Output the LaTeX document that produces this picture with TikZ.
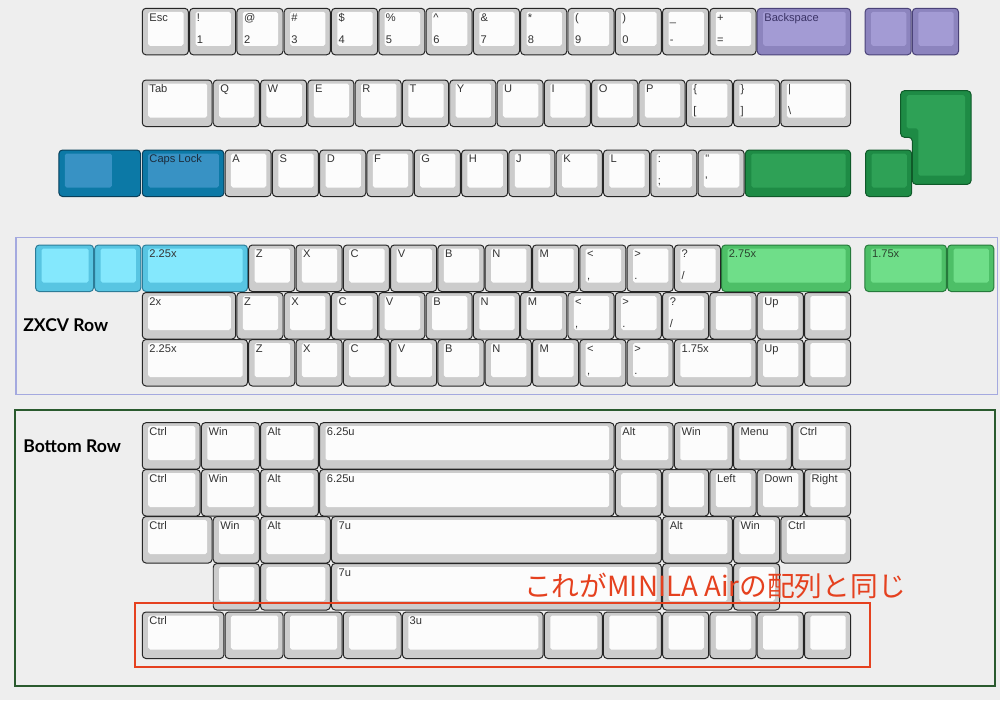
\documentclass[tikz,border=0pt]{standalone}
\usepackage{fontspec}
\setmainfont{Liberation Sans}
\newfontfamily\headfont{Lato}
\newfontfamily\jpfont{Noto Sans CJK JP}
\definecolor{paper}{HTML}{EEEEEE}
\definecolor{capO}{HTML}{CCCCCC}
\definecolor{capI}{HTML}{FCFCFC}
\definecolor{capD}{HTML}{262626}
\definecolor{capT}{HTML}{333333}
\definecolor{lilacO}{HTML}{8C84BE}
\definecolor{lilacI}{HTML}{A39BD4}
\definecolor{lilacD}{HTML}{4A4278}
\definecolor{lilacT}{HTML}{3B3366}
\definecolor{tealO}{HTML}{0C79A6}
\definecolor{tealI}{HTML}{3892C4}
\definecolor{tealD}{HTML}{083F5A}
\definecolor{tealT}{HTML}{1C2C3C}
\definecolor{pineO}{HTML}{1E8B45}
\definecolor{pineI}{HTML}{2EA156}
\definecolor{pineD}{HTML}{0F5A29}
\definecolor{pineT}{HTML}{1E3A24}
\definecolor{aquaO}{HTML}{58C5E2}
\definecolor{aquaI}{HTML}{84E8FD}
\definecolor{aquaD}{HTML}{2C7C98}
\definecolor{aquaT}{HTML}{333333}
\definecolor{mintO}{HTML}{4DBF67}
\definecolor{mintI}{HTML}{6FDE89}
\definecolor{mintD}{HTML}{267A3B}
\definecolor{mintT}{HTML}{2A442E}
\definecolor{zxcvline}{HTML}{A4A9DF}
\definecolor{bottomline}{HTML}{2A5A2E}
\definecolor{note}{HTML}{E5411F}

% x0, y0, offset (u), width (u), colour set, top label, bottom label
\newcommand\keycap[7]{%
  \pgfmathsetmacro\keyL{#1+#3*47.3}%
  \pgfmathsetmacro\keyR{#1+(#3+#4)*47.3}%
  \filldraw[fill=#5O,draw=#5D,line width=0.7pt,rounded corners=2.6pt]
    (\keyL+0.6,#2) rectangle (\keyR-0.6,#2+46.5);
  \fill[#5I,rounded corners=1.3pt] (\keyL+6.5,#2+3.5) rectangle (\keyR-5.5,#2+37.5);
  \node[keytext,text=#5T] at (\keyL+7.5,#2+12.8) {#6};
  \node[keytext,text=#5T] at (\keyL+7.5,#2+34.8) {#7};}

\begin{document}
\begin{tikzpicture}[x=0.025cm,y=-0.025cm,
  keytext/.style={anchor=base west,inner sep=0pt,font=\fontsize{7.9}{9}\selectfont},
  rowtitle/.style={anchor=west,inner sep=0pt,font=\headfont\bfseries\fontsize{12.5}{15}\selectfont}]
  \fill[paper] (0,0) rectangle (1000,700);
  \useasboundingbox (0,0) rectangle (1000,700);

  % number row
  \foreach \o/\a/\b in {0/Esc/{},1/!/1,2/@/2,3/\#/3,4/\$/4,5/\%/5,6/\^{}/6,
      7/\&/7,8/*/8,9/(/9,10/)/0,11/\_/-,12/+/=}{
    \keycap{141.7}{8.3}{\o}{1}{cap}{\a}{\b}}
  \keycap{141.7}{8.3}{13}{2}{lilac}{Backspace}{}
  \keycap{864.5}{8.3}{0}{1}{lilac}{}{}
  \keycap{864.5}{8.3}{1}{1}{lilac}{}{}

  % tab row
  \keycap{141.7}{80}{0}{1.5}{cap}{Tab}{}
  \foreach \o/\a in {1.5/Q,2.5/W,3.5/E,4.5/R,5.5/T,6.5/Y,7.5/U,8.5/I,9.5/O,10.5/P}{
    \keycap{141.7}{80}{\o}{1}{cap}{\a}{}}
  \keycap{141.7}{80}{11.5}{1}{cap}{\{}{[}
  \keycap{141.7}{80}{12.5}{1}{cap}{\}}{]}
  \keycap{141.7}{80}{13.5}{1.5}{cap}{|}{\textbackslash}

  % caps row (stepped caps lock on the left)
  \filldraw[fill=tealO,draw=tealD,line width=0.7pt,rounded corners=2.6pt]
    (58.9,150) rectangle (140.5,196.5);
  \fill[tealI,rounded corners=1.3pt] (64.8,153.5) rectangle (111.9,187.5);
  \keycap{141.7}{150}{0}{1.75}{teal}{Caps Lock}{}
  \foreach \o/\a in {1.75/A,2.75/S,3.75/D,4.75/F,5.75/G,6.75/H,7.75/J,8.75/K,9.75/L}{
    \keycap{141.7}{150}{\o}{1}{cap}{\a}{}}
  \keycap{141.7}{150}{10.75}{1}{cap}{:}{;}
  \keycap{141.7}{150}{11.75}{1}{cap}{\textquotedbl}{\textquotesingle}
  \keycap{141.7}{150}{12.75}{2.25}{pine}{}{}
  \keycap{865}{150}{0}{1}{pine}{}{}
  % ISO enter
  \filldraw[fill=pineO,draw=pineD,line width=0.7pt,rounded corners=2.6pt]
    (900.7,90.7) -- (971,90.7) -- (971,184.3) -- (912.3,184.3)
    -- (912.3,137.3) -- (900.7,137.3) -- cycle;
  \fill[pineI,rounded corners=1.3pt] (906.7,95) -- (965,95) -- (965,175.7)
    -- (918.3,175.7) -- (918.3,128.3) -- (906.7,128.3) -- cycle;

  % ZXCV section
  \draw[zxcvline,line width=0.9pt] (16,237.3) rectangle (997.7,394.3);
  \node[rowtitle] (zxcvtitle) at (23,325) {ZXCV Row};
  \keycap{35}{245}{0}{1.25}{aqua}{}{}
  \keycap{35}{245}{1.25}{1}{aqua}{}{}
  \keycap{141.7}{245}{0}{2.25}{aqua}{2.25x}{}
  \foreach \o/\a/\b in {2.25/Z/{},3.25/X/{},4.25/C/{},5.25/V/{},6.25/B/{},7.25/N/{},
      8.25/M/{},9.25/</{,},10.25/>/.,11.25/?/{/}}{
    \keycap{141.7}{245}{\o}{1}{cap}{\a}{\b}}
  \keycap{141.7}{245}{12.25}{2.75}{mint}{2.75x}{}
  \keycap{864.3}{245}{0}{1.75}{mint}{1.75x}{}
  \keycap{864.3}{245}{1.75}{1}{mint}{}{}
  % 2x shift
  \keycap{141.7}{292.5}{0}{2}{cap}{2x}{}
  \foreach \o/\a/\b in {2/Z/{},3/X/{},4/C/{},5/V/{},6/B/{},7/N/{},8/M/{},
      9/</{,},10/>/.,11/?/{/},12/{}/{},13/Up/{},14/{}/{}}{
    \keycap{141.7}{292.5}{\o}{1}{cap}{\a}{\b}}
  % 2.25x shift
  \keycap{141.7}{339.5}{0}{2.25}{cap}{2.25x}{}
  \foreach \o/\a/\b in {2.25/Z/{},3.25/X/{},4.25/C/{},5.25/V/{},6.25/B/{},7.25/N/{},
      8.25/M/{},9.25/</{,},10.25/>/.,13/Up/{},14/{}/{}}{
    \keycap{141.7}{339.5}{\o}{1}{cap}{\a}{\b}}
  \keycap{141.7}{339.5}{11.25}{1.75}{cap}{1.75x}{}

  % bottom section
  \draw[bottomline,line width=1pt] (15,410) rectangle (995,686);
  \node[rowtitle] (bottomtitle) at (23,446) {Bottom Row};
  \foreach \o/\w/\a in {0/1.25/Ctrl,1.25/1.25/Win,2.5/1.25/Alt,3.75/6.25/6.25u,
      10/1.25/Alt,11.25/1.25/Win,12.5/1.25/Menu,13.75/1.25/Ctrl}{
    \keycap{141.7}{422.7}{\o}{\w}{cap}{\a}{}}
  \foreach \o/\w/\a in {0/1.25/Ctrl,1.25/1.25/Win,2.5/1.25/Alt,3.75/6.25/6.25u,
      10/1/{},11/1/{},12/1/Left,13/1/Down,14/1/Right}{
    \keycap{141.7}{469.5}{\o}{\w}{cap}{\a}{}}
  \foreach \o/\w/\a in {0/1.5/Ctrl,1.5/1/Win,2.5/1.5/Alt,4/7/7u,
      11/1.5/Alt,12.5/1/Win,13.5/1.5/Ctrl}{
    \keycap{141.7}{516.5}{\o}{\w}{cap}{\a}{}}
  \foreach \o/\w/\a in {1.5/1/{},2.5/1.5/{},4/7/7u,11/1.5/{},12.5/1/{}}{
    \keycap{141.7}{563.5}{\o}{\w}{cap}{\a}{}}
  \foreach \o/\w/\a in {0/1.75/Ctrl,1.75/1.25/{},3/1.25/{},4.25/1.25/{},5.5/3/3u,
      8.5/1.25/{},9.75/1.25/{},11/1/{},12/1/{},13/1/{},14/1/{}}{
    \keycap{141.7}{612}{\o}{\w}{cap}{\a}{}}

  % MINILA Air note
  \draw[note,line width=1.5pt] (135,603.3) rectangle (870,667.3);
  \node[text=note,anchor=base west,inner sep=0pt,font=\jpfont\fontsize{19.7}{22}\selectfont]
    (minila) at (524,596) {これがMINILA Airの配列と同じ};
\end{tikzpicture}
\end{document}
